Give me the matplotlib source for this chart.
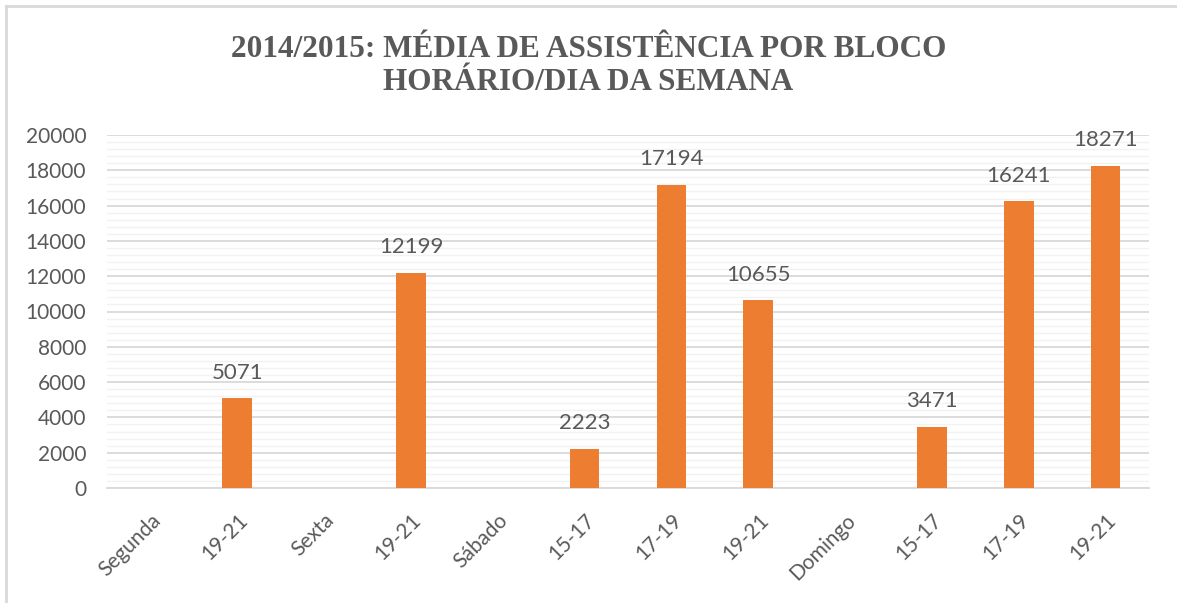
import matplotlib.pyplot as plt
from matplotlib.lines import Line2D
import numpy as np

categorias = ['Segunda', '19-21', 'Sexta', '19-21', 'Sábado', '15-17', '17-19',
              '19-21', 'Domingo', '15-17', '17-19', '19-21']
assistencia = [None, 5071, None, 12199, None, 2223, 17194, 10655, None, 3471, 16241, 18271]

laranja = '#ED7D31'
cinza = '#595959'

fig = plt.figure(figsize=(11.77, 6.03), dpi=100)
W, H = 1177, 603
ax = fig.add_axes([107 / W, 1 - 488 / H, (1149 - 107) / W, (488 - 135) / H])

x = np.arange(len(categorias))
vals = [v if v is not None else 0 for v in assistencia]
bars = ax.bar(x, vals, width=0.34, color=laranja, zorder=3)
for xi, v in zip(x, assistencia):
    if v is not None:
        ax.annotate(str(v), (xi, v), xytext=(0, 11), textcoords='offset points',
                    ha='center', va='bottom', fontsize=16, color=cinza, family='Lato')

ax.set_xlim(-0.5, len(categorias) - 0.5)
ax.set_ylim(0, 20000)
ax.set_yticks(np.arange(0, 20001, 2000))
ax.set_yticks(np.arange(0, 20001, 400), minor=True)
ax.grid(which='major', axis='y', color='#D9D9D9', linewidth=1.3, zorder=0)
ax.grid(which='minor', axis='y', color='#F2F2F2', linewidth=1.0, zorder=0)
ax.set_xticks(x)
ax.set_xticklabels(categorias, rotation=45, ha='right', rotation_mode='anchor')
ax.tick_params(axis='both', which='both', length=0, labelcolor=cinza)
ax.tick_params(axis='x', pad=16, labelsize=15)
ax.tick_params(axis='y', pad=15, labelsize=15)
for lab in ax.get_xticklabels() + ax.get_yticklabels():
    lab.set_family('Lato')
for s in ['top', 'right', 'left']:
    ax.spines[s].set_visible(False)
ax.spines['bottom'].set_color('#D9D9D9')
ax.spines['bottom'].set_linewidth(1.3)

fig.text(0.5, 1 - 66 / H, '2014/2015: MÉDIA DE ASSISTÊNCIA POR BLOCO\nHORÁRIO/DIA DA SEMANA',
         ha='center', va='center', fontsize=22.5, fontweight='bold', color=cinza,
         family='Liberation Serif', linespacing=1.2)

# moldura do gráfico
fig.add_artist(Line2D([6 / W, 6 / W], [0, 1 - 6 / H], color='#D9D9D9', linewidth=2,
                      transform=fig.transFigure))
fig.add_artist(Line2D([6 / W, 1], [1 - 6 / H, 1 - 6 / H], color='#D9D9D9', linewidth=2,
                      transform=fig.transFigure))

fig.savefig('out.png', dpi=100, facecolor='white')
